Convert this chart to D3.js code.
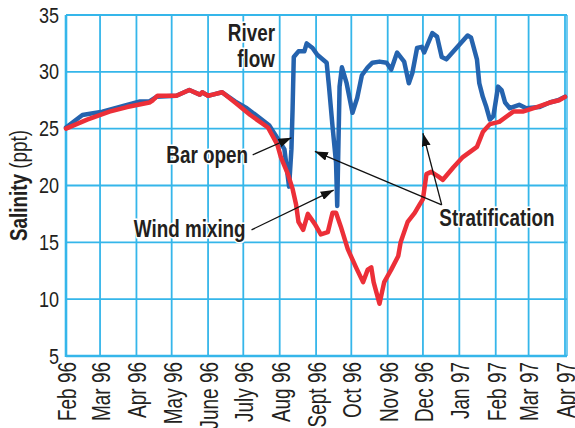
<!DOCTYPE html>
<html>
<head>
<meta charset="utf-8">
<script src="https://cdn.jsdelivr.net/npm/d3@7"></script>
<style>
  body { margin: 0; background: #fff; }
  svg text { font-family: "Liberation Sans", Arial, sans-serif; fill: #231f20; }
</style>
</head>
<body>
<div id="container"></div>
<script>
/* CONSTANTS AND GLOBALS */
const width = 575
const height = 428
const margin = { top: 15, bottom: 72, left: 66, right: 10 }
const squeeze = 0.82 // condensed look, no narrow font installed

// month ticks + labels
const monthTicks = ["1996-02-01","1996-03-01","1996-04-01","1996-05-01","1996-06-01","1996-07-01","1996-08-01",
  "1996-09-01","1996-10-01","1996-11-01","1996-12-01","1997-01-01","1997-02-01","1997-03-01","1997-04-01"]
const tickLabels = ["Feb 96","Mar 96","Apr 96","May 96","June 96","July 96","Aug 96","Sept 96",
  "Oct 96","Nov 96","Dec 96","Jan 97","Feb 97","Mar 97","Apr 97"]
const salinityTicks = [5, 10, 15, 20, 25, 30, 35]

// bottom salinity (blue), [date, ppt]
const bottomSeries = [
  ["1996-02-01",25.1],["1996-02-15",26.2],["1996-03-03",26.5],["1996-03-24",27.1],["1996-04-04",27.4],
  ["1996-04-12",27.4],["1996-04-18",27.8],["1996-05-05",27.9],["1996-05-16",28.4],["1996-05-25",28.0],
  ["1996-05-27",28.2],["1996-06-01",27.9],["1996-06-05",28.0],["1996-06-13",28.2],["1996-06-24",27.4],
  ["1996-07-04",26.8],["1996-07-23",25.3],["1996-08-05",23.2],["1996-08-09",19.9],["1996-08-11",23.2],
  ["1996-08-12",26.8],["1996-08-13",31.3],["1996-08-17",31.8],["1996-08-22",31.8],["1996-08-24",32.5],
  ["1996-08-29",32.1],["1996-09-02",31.5],["1996-09-10",30.8],["1996-09-12",28.7],["1996-09-15",25.2],
  ["1996-09-18",22.0],["1996-09-19",18.2],["1996-09-21",28.7],["1996-09-23",30.4],["1996-09-27",29.0],
  ["1996-10-02",26.4],["1996-10-06",27.7],["1996-10-10",29.7],["1996-10-15",30.4],["1996-10-19",30.8],
  ["1996-10-25",30.9],["1996-10-31",30.8],["1996-11-04",30.2],["1996-11-09",31.7],["1996-11-15",30.9],
  ["1996-11-19",29.0],["1996-11-22",29.9],["1996-11-26",32.1],["1996-11-30",32.2],["1996-12-02",31.7],
  ["1996-12-09",33.4],["1996-12-13",33.1],["1996-12-17",31.3],["1996-12-21",31.1],["1997-01-08",33.2],
  ["1997-01-11",33.0],["1997-01-16",31.1],["1997-01-18",29.0],["1997-01-21",27.8],["1997-01-24",26.9],
  ["1997-01-27",25.8],["1997-01-30",26.1],["1997-02-03",28.7],["1997-02-06",28.4],["1997-02-09",27.3],
  ["1997-02-13",26.8],["1997-02-21",27.1],["1997-02-27",26.8],["1997-03-10",26.9],["1997-03-19",27.3],
  ["1997-03-26",27.5],["1997-04-01",27.8]
]

// surface salinity (red), [date, ppt]
const surfaceSeries = [
  ["1996-02-01",25.0],["1996-02-19",25.8],["1996-03-09",26.5],["1996-03-24",26.9],["1996-04-12",27.3],
  ["1996-04-15",27.5],["1996-04-19",27.9],["1996-05-05",27.9],["1996-05-16",28.4],["1996-05-25",28.0],
  ["1996-05-27",28.2],["1996-06-01",27.9],["1996-06-05",28.0],["1996-06-13",28.2],["1996-06-24",27.3],
  ["1996-07-07",26.2],["1996-07-22",25.1],["1996-07-30",23.6],["1996-08-02",22.5],["1996-08-08",21.0],
  ["1996-08-12",19.7],["1996-08-15",18.3],["1996-08-17",16.8],["1996-08-21",16.1],["1996-08-25",17.5],
  ["1996-08-31",16.6],["1996-09-05",15.7],["1996-09-11",15.9],["1996-09-15",17.6],["1996-09-18",17.6],
  ["1996-09-22",16.4],["1996-09-28",14.4],["1996-10-05",12.8],["1996-10-11",11.5],["1996-10-15",12.6],
  ["1996-10-18",12.8],["1996-10-20",11.5],["1996-10-25",9.6],["1996-10-29",11.5],["1996-11-04",12.6],
  ["1996-11-10",13.8],["1996-11-12",15.0],["1996-11-18",16.8],["1996-11-24",17.6],["1996-11-28",18.3],
  ["1996-12-01",18.8],["1996-12-04",21.0],["1996-12-08",21.2],["1996-12-14",20.8],["1996-12-18",20.5],
  ["1996-12-27",21.6],["1997-01-04",22.5],["1997-01-16",23.4],["1997-01-21",24.7],["1997-01-27",25.4],
  ["1997-02-04",25.6],["1997-02-16",26.5],["1997-02-24",26.5],["1997-03-08",26.9],["1997-03-19",27.3],
  ["1997-03-27",27.5],["1997-04-01",27.8]
]

// annotations in data space [date, ppt]
const labels = [
  { lines: ["River", "flow"], at: ["1996-07-28", 32.7], anchor: "end" },
  { lines: ["Bar open"], at: ["1996-07-05", 22.0], anchor: "end" },
  { lines: ["Wind mixing"], at: ["1996-07-03", 15.5], anchor: "end" },
  { lines: ["Stratification"], at: ["1996-12-15", 16.4], anchor: "start" }
]
const arrows = [
  { from: ["1996-07-09", 22.7], to: ["1996-08-11", 24.2] },
  { from: ["1996-07-08", 16.1], to: ["1996-09-16", 19.6] },
  { from: ["1996-12-17", 18.3], to: ["1996-08-31", 23.0] },
  { from: ["1996-12-17", 18.3], to: ["1996-12-01", 24.6] }
]

const parse = d3.timeParse("%Y-%m-%d")
const gridColor = "#35b6ea"

/* SCALES */
const xScale = d3.scaleTime()
  .domain([parse("1996-02-01"), parse("1997-04-01")])
  .range([margin.left, width - margin.right])

const yScale = d3.scaleLinear()
  .domain([5, 35])
  .range([height - margin.bottom, margin.top])

/* SVG */
const svg = d3.select("#container")
  .append("svg")
  .attr("width", width)
  .attr("height", height)

svg.append("defs").append("marker")
  .attr("id", "head")
  .attr("viewBox", "0 0 13 9")
  .attr("refX", 13).attr("refY", 4.5)
  .attr("markerWidth", 13).attr("markerHeight", 9)
  .attr("markerUnits", "userSpaceOnUse")
  .attr("orient", "auto")
  .append("path")
  .attr("d", "M0,0 L13,4.5 L0,9 Z")
  .attr("fill", "#111")

const [x0, x1] = xScale.range()
const [y0, y1] = yScale.range()

// GRID
svg.append("g")
  .selectAll("line")
  .data(salinityTicks)
  .join("line")
  .attr("x1", x0).attr("x2", x1 + 2)
  .attr("y1", d => yScale(d)).attr("y2", d => yScale(d))
  .attr("stroke", gridColor)
  .attr("stroke-width", 1.8)

svg.append("g")
  .selectAll("line")
  .data(monthTicks)
  .join("line")
  .attr("x1", d => xScale(parse(d))).attr("x2", d => xScale(parse(d)))
  .attr("y1", y1).attr("y2", y0)
  .attr("stroke", gridColor)
  .attr("stroke-width", 1.8)

// frame (left + bottom a bit heavier, double right edge)
svg.append("line")
  .attr("x1", x0).attr("x2", x0).attr("y1", y1).attr("y2", y0 + 1)
  .attr("stroke", gridColor).attr("stroke-width", 2.6)
svg.append("line")
  .attr("x1", x0).attr("x2", x1 + 2).attr("y1", y0).attr("y2", y0)
  .attr("stroke", gridColor).attr("stroke-width", 2.6)
svg.append("line")
  .attr("x1", x1 + 2).attr("x2", x1 + 2).attr("y1", y1).attr("y2", y0)
  .attr("stroke", gridColor).attr("stroke-width", 1.4)

// AXES (labels only)
const yAxis = d3.axisLeft(yScale)
  .tickValues(salinityTicks)
  .tickSize(0)
  .tickPadding(0)

svg.append("g")
  .attr("transform", `translate(${x0}, 0)`)
  .call(yAxis)
  .call(g => g.select(".domain").remove())
  .selectAll("text")
  .attr("x", -7 / squeeze)
  .attr("transform", `scale(${squeeze},1)`)
  .style("font-size", "22px")
  .attr("fill", "#231f20")

const xAxis = d3.axisBottom(xScale)
  .tickValues(monthTicks.map(parse))
  .tickFormat((d, i) => tickLabels[i])
  .tickSize(0)

const xSqueeze = 0.73
svg.append("g")
  .attr("transform", `translate(0, ${y0})`)
  .call(xAxis)
  .call(g => g.select(".domain").remove())
  .selectAll("text")
  .attr("transform", `rotate(-90) scale(${xSqueeze},1)`)
  .attr("text-anchor", "end")
  .attr("x", -6 / xSqueeze)
  .attr("y", 0)
  .attr("dy", "0.36em")
  .style("font-size", "26px")
  .attr("fill", "#231f20")

// y title
const title = svg.append("text")
  .attr("transform", `translate(${27}, ${(y0 + y1) / 2}) rotate(-90) scale(${squeeze},1)`)
  .attr("text-anchor", "middle")
  .style("font-size", "23px")
title.append("tspan").attr("font-weight", "bold").text("Salinity")
title.append("tspan").text(" (ppt)")

// LINES
const line = d3.line()
  .x(d => xScale(parse(d[0])))
  .y(d => yScale(d[1]))

svg.append("path")
  .attr("d", line(bottomSeries))
  .attr("fill", "none")
  .attr("stroke", "#2563ae")
  .attr("stroke-width", 4.5)
  .attr("stroke-linejoin", "round")
  .attr("stroke-linecap", "round")

svg.append("path")
  .attr("d", line(surfaceSeries))
  .attr("fill", "none")
  .attr("stroke", "#ec2f38")
  .attr("stroke-width", 4.5)
  .attr("stroke-linejoin", "round")
  .attr("stroke-linecap", "round")

// ANNOTATIONS
svg.append("g")
  .selectAll("line")
  .data(arrows)
  .join("line")
  .attr("x1", d => xScale(parse(d.from[0]))).attr("y1", d => yScale(d.from[1]))
  .attr("x2", d => xScale(parse(d.to[0]))).attr("y2", d => yScale(d.to[1]))
  .attr("stroke", "#111")
  .attr("stroke-width", 1.3)
  .attr("marker-end", "url(#head)")

svg.append("g")
  .selectAll("g")
  .data(labels)
  .join("g")
  .attr("transform", d => `translate(${xScale(parse(d.at[0]))}, ${yScale(d.at[1])}) scale(${squeeze},1)`)
  .append("text")
  .attr("text-anchor", d => d.anchor)
  .attr("font-weight", "bold")
  .style("font-size", "23px")
  .style("paint-order", "stroke")
  .attr("stroke", "#fff")
  .attr("stroke-width", 3)
  .each(function (d) {
    d3.select(this).selectAll("tspan")
      .data(d.lines)
      .join("tspan")
      .attr("x", 0)
      .attr("dy", (t, i) => i === 0 ? 0 : 26)
      .text(t => t)
  })
</script>
</body>
</html>
